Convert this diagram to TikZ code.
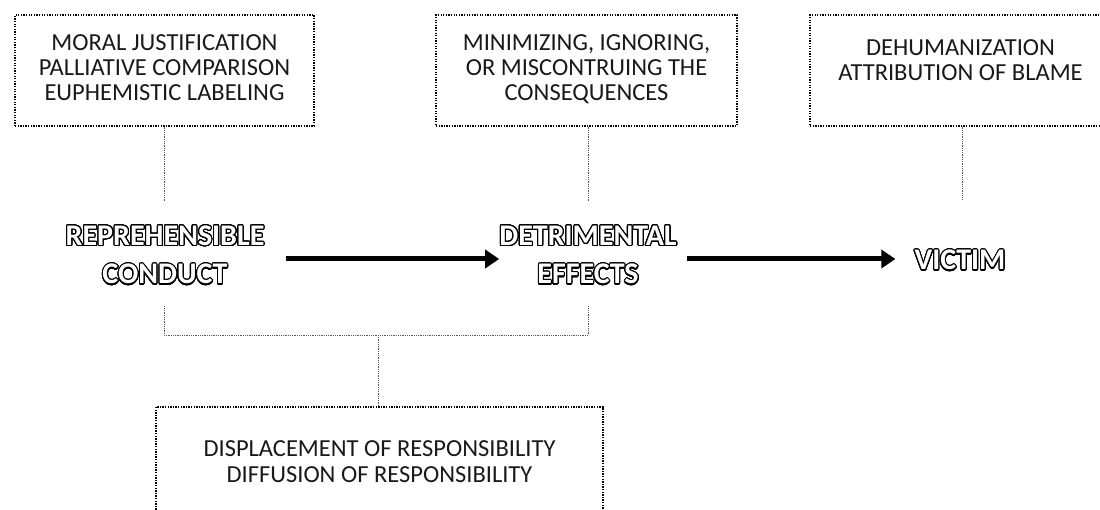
\documentclass[tikz,border=0pt]{standalone}
\usepackage{fontspec}
\setmainfont{Carlito}
\usepackage[copies]{contour}
\contourlength{1.1pt}
\contournumber{32}
\usetikzlibrary{arrows.meta}
\tikzset{
  boxstyle/.style={draw=black, line width=1.3pt, dash pattern=on 1.3pt off 1.3pt,
    inner sep=0pt, anchor=base, align=center, text=black!90,
    font=\fontsize{24.5}{25}\selectfont},
  conn/.style={draw=gray!70!black, line width=0.9pt, dash pattern=on 0.9pt off 0.9pt},
  big/.style={inner sep=0pt, anchor=base, align=center, text=white,
    font=\fontsize{30}{38.5}\selectfont\bfseries, text height=62pt, text depth=12pt},
  arr/.style={line width=5pt, -{Triangle[length=14pt,width=18pt]}}
}
\begin{document}
\begin{tikzpicture}[x=1pt,y=-1pt]
\path[use as bounding box, clip] (0,0) rectangle (1100,510);

% upper boxes
\node[boxstyle, minimum width=299pt, text height=86pt, text depth=25pt] (b1) at (164.5,101)
  {MORAL JUSTIFICATION\\PALLIATIVE COMPARISON\\EUPHEMISTIC LABELING};
\node[boxstyle, minimum width=301pt, text height=86pt, text depth=25pt] (b2) at (586.5,101)
  {MINIMIZING, IGNORING,\\OR MISCONTRUING THE\\CONSEQUENCES};
\node[boxstyle, minimum width=301pt, text height=66pt, text depth=45pt] (b3) at (960.5,81)
  {DEHUMANIZATION\\ATTRIBUTION OF BLAME};

% bottom box
\node[boxstyle, minimum width=447pt, text height=75.5pt, text depth=60pt,
  font=\fontsize{24.5}{26.5}\selectfont] (b4) at (379.5,482.5)
  {DISPLACEMENT OF RESPONSIBILITY\\DIFFUSION OF RESPONSIBILITY};

% main labels
\node[big] (conduct) at (165,284) {\contour{black}{REPREHENSIBLE}\\\contour{black}{CONDUCT}};
\node[big] (detri) at (588,284) {\contour{black}{DETRIMENTAL}\\\contour{black}{EFFECTS}};
\node[big, text height=24pt, text depth=2pt] (victim) at (960,270) {\contour{black}{VICTIM}};

% arrows
\draw[arr] ([xshift=21pt]conduct.east) -- (detri.west);
\draw[arr] ([xshift=10pt]detri.east) -- ([xshift=-19pt]victim.west);

% dotted connectors
\draw[conn] (b1.south) -- ([yshift=20pt]b1.south |- conduct.north);
\draw[conn] (detri |- b2.south) -- ([yshift=20pt]detri.north);
\draw[conn] ([xshift=1.5pt]b3.south) -- ([xshift=1.5pt,yshift=46pt]b3.south |- victim.north);

% bracket
\coordinate (bj) at (378,335);
\draw[conn] ([xshift=-1pt,yshift=-10pt]conduct.south) |- (bj) -| ([yshift=-10pt]detri.south);
\draw[conn] (bj) -- (bj |- b4.north);
\end{tikzpicture}
\end{document}
